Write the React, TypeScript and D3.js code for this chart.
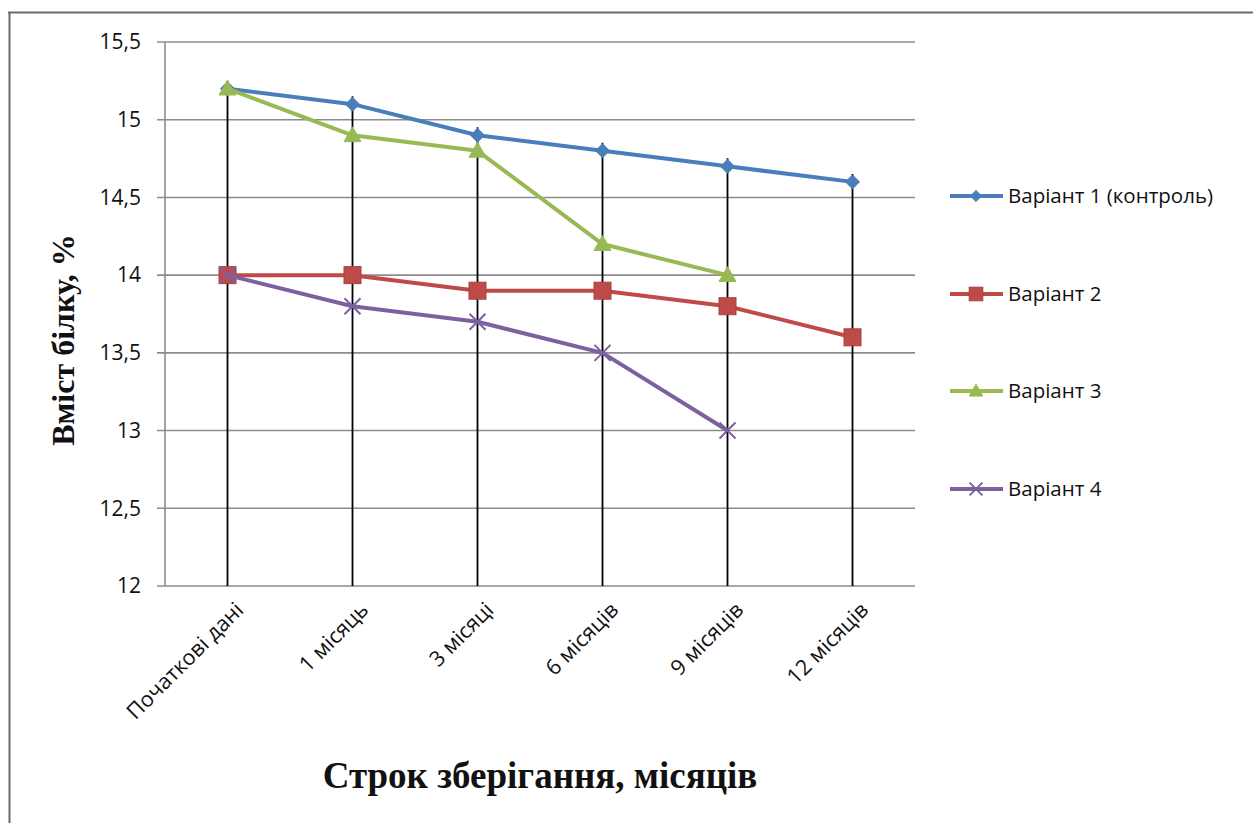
import React, { useEffect, useRef } from "react";
import * as d3 from "d3";

// Protein content during storage, by variant
const categories = ["Початкові дані", "1 місяць", "3 місяці", "6 місяців", "9 місяців", "12 місяців"];
const variant1 = [15.2, 15.1, 14.9, 14.8, 14.7, 14.6];
const variant2 = [14.0, 14.0, 13.9, 13.9, 13.8, 13.6];
const variant3 = [15.2, 14.9, 14.8, 14.2, 14.0];
const variant4 = [14.0, 13.8, 13.7, 13.5, 13.0];
const yTicks = [12, 12.5, 13, 13.5, 14, 14.5, 15, 15.5];
const seriesNames = ["Варіант 1 (контроль)", "Варіант 2", "Варіант 3", "Варіант 4"];
const yTitle = "Вміст білку, %";
const xTitle = "Строк зберігання, місяців";

const W = 1253;
const H = 823;

export default function App() {
  const ref = useRef<SVGSVGElement | null>(null);

  useEffect(() => {
    const svg = d3.select(ref.current);
    svg.selectAll("*").remove();

    const left = 165, right = 915, top = 42, bottom = 586;
    const x = d3.scaleBand<string>().domain(categories).range([left, right]);
    const cx = (c: string) => (x(c) as number) + x.bandwidth() / 2;
    const y = d3.scaleLinear().domain([12, 15.5]).range([bottom, top]);

    svg.append("rect").attr("width", W).attr("height", H).attr("fill", "#fff");

    // page frame
    svg.append("line").attr("x1", 8).attr("x2", W).attr("y1", 12.5).attr("y2", 12.5)
      .attr("stroke", "#6b6b6b").attr("stroke-width", 2);
    svg.append("line").attr("x1", 9.5).attr("x2", 9.5).attr("y1", 12).attr("y2", H)
      .attr("stroke", "#6b6b6b").attr("stroke-width", 2);

    // horizontal gridlines
    const grid = svg.append("g");
    yTicks.forEach((t) => {
      grid.append("line")
        .attr("x1", left - 8).attr("x2", right)
        .attr("y1", y(t)).attr("y2", y(t))
        .attr("stroke", "#8c8c8c").attr("stroke-width", 1.6);
    });
    // value axis line
    svg.append("line").attr("x1", left).attr("x2", left).attr("y1", top).attr("y2", bottom)
      .attr("stroke", "#8c8c8c").attr("stroke-width", 1.6);

    // y tick labels
    svg.append("g").selectAll("text").data(yTicks).join("text")
      .attr("x", left - 24).attr("y", (d) => y(d))
      .attr("dy", "0.35em")
      .attr("text-anchor", "end")
      .attr("font-family", "'Open Sans', sans-serif")
      .attr("font-size", 21)
      .attr("fill", "#111")
      .text((d) => d3.format("")(d).replace(".", ","));

    const series = [
      { name: seriesNames[0], values: variant1, color: "#4a7ebb", marker: "diamond" },
      { name: seriesNames[1], values: variant2, color: "#be4b48", marker: "square" },
      { name: seriesNames[2], values: variant3, color: "#98b954", marker: "triangle" },
      { name: seriesNames[3], values: variant4, color: "#7d60a0", marker: "x" },
    ];

    // drop lines from the highest point in each category down to the axis
    categories.forEach((c, i) => {
      const vals = series.map((s) => s.values[i]).filter((v) => v !== undefined) as number[];
      const maxV = d3.max(vals) as number;
      svg.append("line")
        .attr("x1", cx(c)).attr("x2", cx(c))
        .attr("y1", y(maxV) - 8).attr("y2", bottom)
        .attr("stroke", "#000").attr("stroke-width", 1.8);
    });

    const drawMarker = (g: any, kind: string, px: number, py: number, color: string, scale = 1) => {
      if (kind === "diamond") {
        const r = 7 * scale;
        g.append("path")
          .attr("d", `M${px},${py - r}L${px + r},${py}L${px},${py + r}L${px - r},${py}Z`)
          .attr("fill", color).attr("stroke", color);
      } else if (kind === "square") {
        const r = 8.5 * scale;
        g.append("rect").attr("x", px - r).attr("y", py - r).attr("width", 2 * r).attr("height", 2 * r)
          .attr("fill", color).attr("stroke", "#a5403d").attr("stroke-width", 1);
      } else if (kind === "triangle") {
        const r = 8.5 * scale;
        g.append("path")
          .attr("d", `M${px},${py - r}L${px + r},${py + r * 0.75}L${px - r},${py + r * 0.75}Z`)
          .attr("fill", color).attr("stroke", color);
      } else {
        const r = 8 * scale;
        g.append("path")
          .attr("d", `M${px - r},${py - r}L${px + r},${py + r}M${px - r},${py + r}L${px + r},${py - r}`)
          .attr("stroke", color).attr("stroke-width", 2);
      }
    };

    const line = d3.line<number>()
      .x((_, i) => cx(categories[i]))
      .y((d) => y(d));

    series.forEach((s) => {
      const g = svg.append("g");
      g.append("path").datum(s.values)
        .attr("d", line)
        .attr("fill", "none")
        .attr("stroke", s.color)
        .attr("stroke-width", 4)
        .attr("stroke-linejoin", "round");
      s.values.forEach((v, i) => drawMarker(g, s.marker, cx(categories[i]), y(v), s.color));
    });

    // category labels, rotated
    svg.append("g").selectAll("text").data(categories).join("text")
      .attr("transform", (d) => `translate(${cx(d) + 12},${bottom + 20}) rotate(-45)`)
      .attr("text-anchor", "end")
      .attr("dy", "0.35em")
      .attr("font-family", "'Open Sans', sans-serif")
      .attr("font-size", 21.5)
      .attr("fill", "#111")
      .text((d) => d);

    // axis titles
    svg.append("text")
      .attr("transform", `translate(74,${340}) rotate(-90)`)
      .attr("text-anchor", "middle")
      .attr("font-family", "'Liberation Serif', serif")
      .attr("font-weight", "bold")
      .attr("font-size", 32)
      .attr("fill", "#111")
      .text(yTitle);
    svg.append("text")
      .attr("x", 540).attr("y", 788)
      .attr("text-anchor", "middle")
      .attr("font-family", "'Liberation Serif', serif")
      .attr("font-weight", "bold")
      .attr("font-size", 37)
      .attr("fill", "#111")
      .text(xTitle);

    // legend
    const legendY = [196, 294, 391, 489];
    series.forEach((s, i) => {
      const g = svg.append("g");
      g.append("line").attr("x1", 950).attr("x2", 1003)
        .attr("y1", legendY[i]).attr("y2", legendY[i])
        .attr("stroke", s.color).attr("stroke-width", 4);
      drawMarker(g, s.marker, 976, legendY[i], s.color, 0.8);
      g.append("text")
        .attr("x", 1008).attr("y", legendY[i])
        .attr("dy", "0.35em")
        .attr("font-family", "'Open Sans', sans-serif")
        .attr("font-size", 20.5)
        .attr("fill", "#111")
        .text(s.name);
    });
  }, []);

  return (
    <svg
      ref={ref}
      width={W}
      height={H}
      style={{ position: "absolute", left: 0, top: 0, display: "block" }}
    />
  );
}
